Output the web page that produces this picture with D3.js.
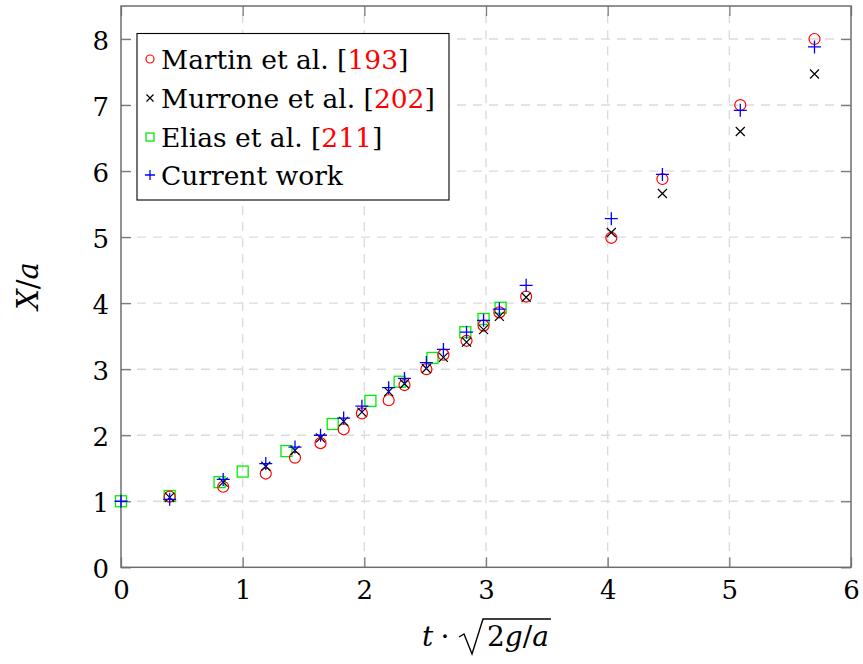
<!DOCTYPE html>
<html><head><meta charset="utf-8">
<script src="https://cdn.jsdelivr.net/npm/d3@7"></script>
<style>body{margin:0;background:#fff}svg{display:block}</style>
</head><body>
<svg id="c" width="863" height="664"></svg>
<script>
const xTicks = [0,1,2,3,4,5,6];
const yTicks = [0,1,2,3,4,5,6,7,8];

const martinX = [0.40,0.84,1.19,1.43,1.64,1.83,1.98,2.20,2.33,2.51,2.65,2.84,2.98,3.11,3.33,4.03,4.45,5.09,5.70];
const martinY = [1.07,1.22,1.42,1.66,1.88,2.09,2.33,2.53,2.76,3.00,3.22,3.43,3.66,3.86,4.10,4.99,5.88,7.00,8.00];

const murroneX = [0.40,0.84,1.19,1.43,1.64,1.83,1.98,2.20,2.33,2.51,2.65,2.84,2.98,3.11,3.33,4.03,4.45,5.09,5.70];
const murroneY = [1.06,1.29,1.53,1.77,1.96,2.21,2.35,2.66,2.78,3.01,3.18,3.41,3.60,3.80,4.09,5.07,5.66,6.60,7.47];

const eliasX = [0.00,0.40,0.81,1.00,1.36,1.74,2.05,2.29,2.56,2.83,2.98,3.12];
const eliasY = [1.00,1.08,1.29,1.45,1.76,2.17,2.52,2.81,3.17,3.56,3.76,3.93];

const currentX = [0.00,0.40,0.84,1.19,1.43,1.64,1.83,1.98,2.20,2.33,2.51,2.65,2.84,2.98,3.11,3.33,4.03,4.45,5.09,5.70];
const currentY = [1.00,1.03,1.33,1.57,1.82,2.00,2.26,2.44,2.72,2.86,3.10,3.30,3.56,3.74,3.91,4.27,5.28,5.95,6.92,7.88];

const legendNames = ["Martin et al. ", "Murrone et al. ", "Elias et al. ", "Current work"];
const legendRefs = ["193", "202", "211", null];

const svg = d3.select("#c");
const FONT = "'DejaVu Serif', 'Liberation Serif', serif";
const L = 121, R = 851, T = 6, B = 567.3;
const x = d3.scaleLinear().domain([0,6]).range([L,R]);
const y = d3.scaleLinear().domain([0,8.5]).range([B,T]);

// grid
const grid = svg.append("g").attr("stroke","#dcdcdc").attr("stroke-width",1.4).attr("stroke-dasharray","9,7");
grid.selectAll("line.vx").data(xTicks.slice(1,-1)).join("line")
  .attr("x1",d=>x(d)).attr("x2",d=>x(d)).attr("y1",B).attr("y2",T);
grid.selectAll("line.hy").data(yTicks.slice(1)).join("line")
  .attr("x1",L).attr("x2",R).attr("y1",d=>y(d)).attr("y2",d=>y(d));

// axes via d3 (ticks inward)
const tickColor = "#7a7a7a";
const axB = svg.append("g").attr("transform",`translate(0,${B})`)
  .call(d3.axisBottom(x).tickValues(xTicks).tickSize(-10).tickFormat(d3.format("d")));
const axT = svg.append("g").attr("transform",`translate(0,${T})`)
  .call(d3.axisTop(x).tickValues(xTicks).tickSize(-10).tickFormat(""));
const axLf = svg.append("g").attr("transform",`translate(${L},0)`)
  .call(d3.axisLeft(y).tickValues(yTicks).tickSize(-10).tickFormat(d3.format("d")));
const axRt = svg.append("g").attr("transform",`translate(${R},0)`)
  .call(d3.axisRight(y).tickValues(yTicks).tickSize(-10).tickFormat(""));
[axB,axT,axLf,axRt].forEach(a=>{
  a.select(".domain").remove();
  a.selectAll(".tick line").attr("stroke",tickColor).attr("stroke-width",1.3);
  a.selectAll("text").attr("font-family",FONT).attr("font-size",26).attr("fill","#000");
});
axB.selectAll("text").attr("dy",null).attr("y",32);
axLf.selectAll("text").attr("dy",null).attr("x",-12).attr("y",10);

// frame
svg.append("rect").attr("x",L).attr("y",T).attr("width",R-L).attr("height",B-T)
  .attr("fill","none").attr("stroke","#6e6e6e").attr("stroke-width",1.5);

// markers
function drawCircle(g, cx, cy, r){ g.append("circle").attr("cx",cx).attr("cy",cy).attr("r",r).attr("fill","none").attr("stroke","#ff0000").attr("stroke-width",1.2); }
function drawX(g, cx, cy, s){ g.append("path").attr("d",`M${cx-s},${cy-s}L${cx+s},${cy+s}M${cx-s},${cy+s}L${cx+s},${cy-s}`).attr("stroke","#000").attr("stroke-width",1.2).attr("fill","none"); }
function drawSq(g, cx, cy, s){ g.append("rect").attr("x",cx-s).attr("y",cy-s).attr("width",2*s).attr("height",2*s).attr("fill","none").attr("stroke","#00ee00").attr("stroke-width",1.3); }
function drawPlus(g, cx, cy, s){ g.append("path").attr("d",`M${cx-s},${cy}L${cx+s},${cy}M${cx},${cy-s}L${cx},${cy+s}`).attr("stroke","#0000ff").attr("stroke-width",1.3).attr("fill","none"); }

const pts = svg.append("g");
eliasX.forEach((v,i)=>drawSq(pts, x(v), y(eliasY[i]), 5.5));
martinX.forEach((v,i)=>drawCircle(pts, x(v), y(martinY[i]), 5.5));
murroneX.forEach((v,i)=>drawX(pts, x(v), y(murroneY[i]), 4.5));
currentX.forEach((v,i)=>drawPlus(pts, x(v), y(currentY[i]), 6.5));

// legend
const lg = svg.append("g");
lg.append("rect").attr("x",137).attr("y",33.5).attr("width",312).attr("height",166.5)
  .attr("fill","#fff").attr("stroke","#000").attr("stroke-width",1.1);
const rowY = [59, 98, 137, 175];
const mx = 150;
drawCircle(lg, mx, rowY[0], 4);
drawX(lg, mx, rowY[1], 3.5);
drawSq(lg, mx, rowY[2], 4);
drawPlus(lg, mx, rowY[3], 5);
legendNames.forEach((n,i)=>{
  const t = lg.append("text").attr("x",161).attr("y",rowY[i]+10).attr("font-family",FONT).attr("font-size",26.5).attr("fill","#000");
  t.append("tspan").text(n);
  if (legendRefs[i]) {
    t.append("tspan").text("[");
    t.append("tspan").attr("fill","#ff0000").text(legendRefs[i]);
    t.append("tspan").text("]");
  }
});

// y label
svg.append("text").attr("transform","translate(38,286) rotate(-90)").attr("text-anchor","middle")
  .attr("font-family",FONT).attr("font-size",29).attr("fill","#000")
  .html('<tspan font-style="italic">X</tspan>/<tspan font-style="italic">a</tspan>');

// x label: t · sqrt(2g/a)
const xl = svg.append("g").attr("font-family",FONT).attr("font-size",28).attr("fill","#000");
const base = 646;
xl.append("text").attr("x",422).attr("y",base).attr("font-style","italic").text("t");
xl.append("text").attr("x",445).attr("y",base).attr("text-anchor","middle").text("·");
const rx0 = 459;
const t2 = xl.append("text").attr("x",rx0+28).attr("y",base)
  .html('2<tspan font-style="italic">g</tspan>/<tspan font-style="italic">a</tspan>');
const w2 = t2.node().getComputedTextLength();
xl.append("path").attr("d",`M${rx0},${base-9}L${rx0+5},${base-12}L${rx0+13},${base+8}L${rx0+24},${base-27}L${rx0+28+w2+2},${base-27}`)
  .attr("fill","none").attr("stroke","#000").attr("stroke-width",1.4);
</script>
</body></html>
